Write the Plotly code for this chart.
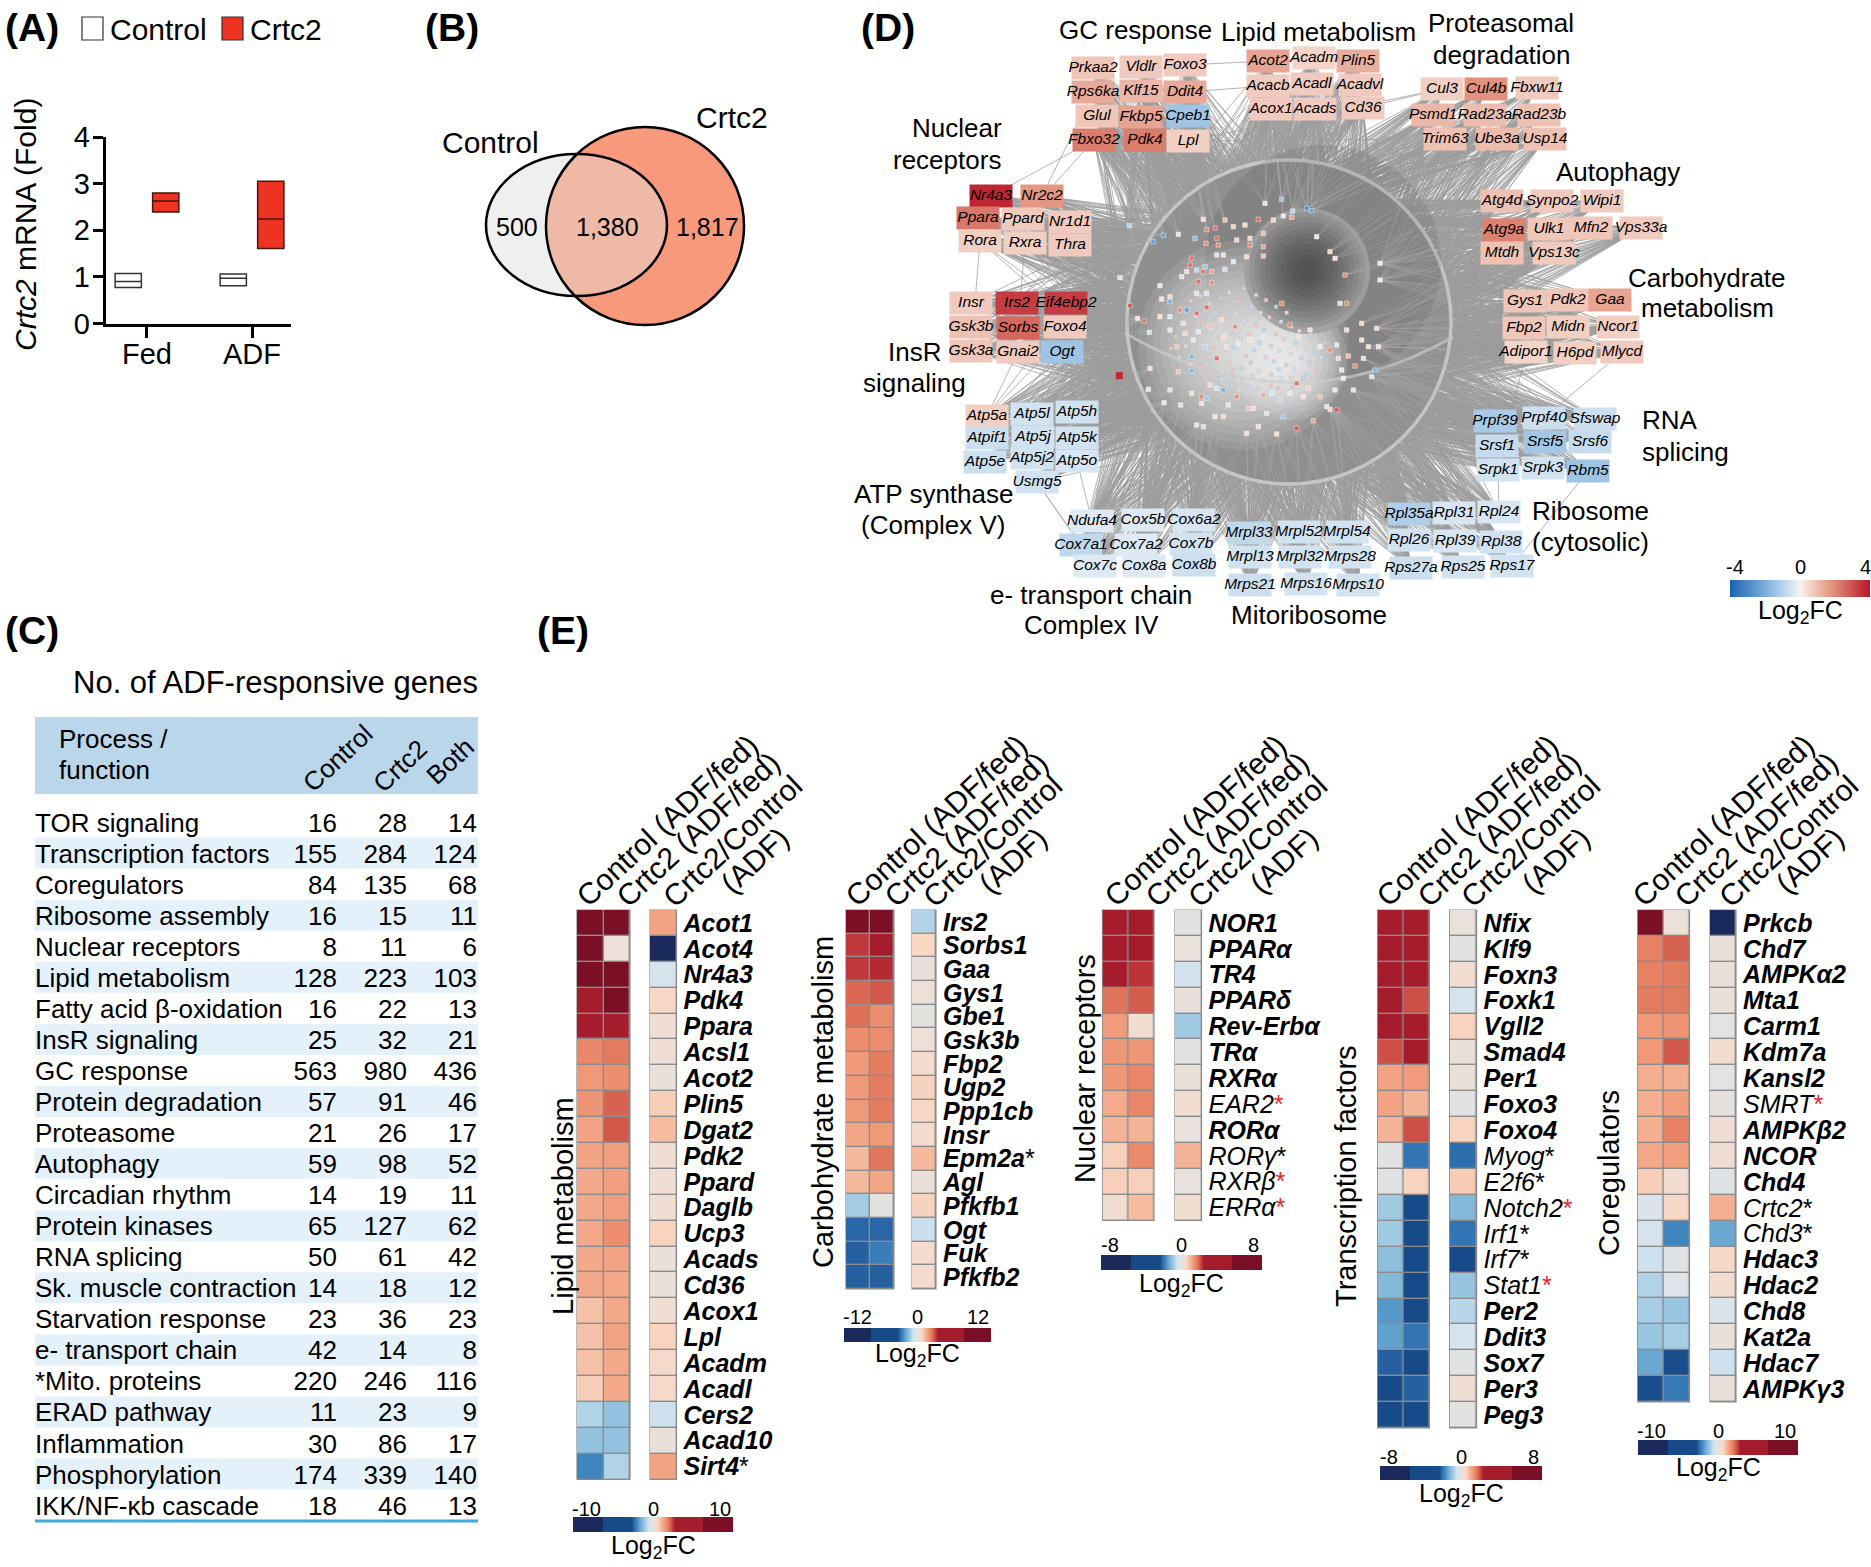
import numpy as np
import plotly.graph_objects as go

W, H = 1871, 1567
FONT = "Liberation Sans"

# ---------- panel A ----------
a_groups = ["Fed", "ADF"]
a_ctrl_q1 = [0.77, 0.81]
a_ctrl_med = [0.90, 0.97]
a_ctrl_q3 = [1.07, 1.06]
a_crtc_q1 = [2.39, 1.61]
a_crtc_med = [2.63, 2.24]
a_crtc_q3 = [2.80, 3.05]

# ---------- panel B ----------
venn_labels = ["Control", "Crtc2"]
venn_counts = ["500", "1,380", "1,817"]

# ---------- panel C ----------
c_process = ["TOR signaling", "Transcription factors", "Coregulators", "Ribosome assembly",
             "Nuclear receptors", "Lipid metabolism", "Fatty acid β-oxidation", "InsR signaling",
             "GC response", "Protein degradation", "Proteasome", "Autophagy", "Circadian rhythm",
             "Protein kinases", "RNA splicing", "Sk. muscle contraction", "Starvation response",
             "e- transport chain", "*Mito. proteins", "ERAD pathway", "Inflammation",
             "Phosphorylation", "IKK/NF-κb cascade"]
c_control = [16, 155, 84, 16, 8, 128, 16, 25, 563, 57, 21, 59, 14, 65, 50, 14, 23, 42, 220, 11, 30, 174, 18]
c_crtc2 = [28, 284, 135, 15, 11, 223, 22, 32, 980, 91, 26, 98, 19, 127, 61, 18, 36, 14, 246, 23, 86, 339, 46]
c_both = [14, 124, 68, 11, 6, 103, 13, 21, 436, 46, 17, 52, 11, 62, 42, 12, 23, 8, 116, 9, 17, 140, 13]

# ---------- panel D: network modules (gene, log2FC, layout position) ----------
gc_genes = ["Prkaa2", "Vldlr", "Foxo3", "Rps6ka", "Klf15", "Ddit4", "Glul", "Fkbp5", "Cpeb1", "Fbxo32", "Pdk4", "Lpl"]
gc_fc = [0.9, 0.8, 0.8, 1.5, 1.2, 1.5, 0.9, 1.6, -1.5, 2.4, 2.4, 0.7]
gc_x = [1093, 1141, 1185, 1093, 1141, 1185, 1097, 1141, 1188, 1094, 1145, 1188]
gc_y = [68, 67, 65, 92, 91, 92, 116, 117, 116, 140, 140, 141]

lipid_net_genes = ["Acot2", "Acadm", "Plin5", "Acacb", "Acadl", "Acadvl", "Acox1", "Acads", "Cd36"]
lipid_net_fc = [1.6, 0.6, 1.4, 0.8, 0.8, 0.8, 0.8, 0.8, 0.8]
lipid_net_x = [1268, 1314, 1358, 1268, 1312, 1360, 1271, 1315, 1363]
lipid_net_y = [61, 58, 61, 86, 84, 85, 109, 109, 108]

prot_genes = ["Cul3", "Cul4b", "Fbxw11", "Psmd1", "Rad23a", "Rad23b", "Trim63", "Ube3a", "Usp14"]
prot_fc = [0.7, 2.0, 0.8, 1.2, 1.1, 1.0, 1.0, 1.1, 1.0]
prot_x = [1442, 1486, 1537, 1433, 1485, 1539, 1445, 1497, 1545]
prot_y = [89, 89, 88, 115, 115, 115, 139, 139, 139]

auto_genes = ["Atg4d", "Synpo2", "Wipi1", "Atg9a", "Ulk1", "Mfn2", "Vps33a", "Mtdh", "Vps13c"]
auto_fc = [1.0, 0.8, 0.8, 2.3, 0.9, 0.9, 0.8, 1.0, 0.8]
auto_x = [1502, 1552, 1602, 1504, 1549, 1591, 1641, 1502, 1554]
auto_y = [201, 201, 201, 230, 229, 228, 228, 253, 253]

carb_net_genes = ["Gys1", "Pdk2", "Gaa", "Fbp2", "Midn", "Ncor1", "Adipor1", "H6pd", "Mlycd"]
carb_net_fc = [0.9, 0.9, 1.6, 0.9, 0.7, 0.7, 0.6, 0.7, 0.8]
carb_net_x = [1525, 1568, 1610, 1524, 1568, 1618, 1526, 1575, 1622]
carb_net_y = [301, 300, 300, 328, 327, 327, 352, 353, 352]

nr_net_genes = ["Nr4a3", "Nr2c2", "Ppara", "Ppard", "Nr1d1", "Rora", "Rxra", "Thra"]
nr_net_fc = [4.0, 1.9, 2.5, 0.8, 0.8, 0.7, 0.7, 0.8]
nr_net_x = [991, 1042, 978, 1023, 1070, 980, 1025, 1070]
nr_net_y = [196, 196, 218, 219, 222, 241, 243, 245]

insr_genes = ["Insr", "Irs2", "Eif4ebp2", "Gsk3b", "Sorbs", "Foxo4", "Gsk3a", "Gnai2", "Ogt"]
insr_fc = [0.8, 3.6, 3.6, 1.0, 2.8, 0.8, 0.9, 0.8, -1.5]
insr_x = [971, 1017, 1066, 971, 1018, 1065, 971, 1018, 1062]
insr_y = [303, 303, 303, 327, 328, 327, 351, 352, 352]

atp_genes = ["Atp5a", "Atp5l", "Atp5h", "Atpif1", "Atp5j", "Atp5k", "Atp5e", "Atp5j2", "Atp5o", "Usmg5"]
atp_fc = [0.7, -0.6, -0.6, -0.7, -0.6, -0.6, -0.7, -0.6, -0.5, -0.6]
atp_x = [987, 1032, 1077, 987, 1033, 1077, 985, 1032, 1077, 1037]
atp_y = [416, 414, 412, 438, 437, 438, 462, 458, 461, 482]

etc_genes = ["Ndufa4", "Cox5b", "Cox6a2", "Cox7a1", "Cox7a2", "Cox7b", "Cox7c", "Cox8a", "Cox8b"]
etc_fc = [-0.4, -0.4, -0.5, -0.9, -0.4, -0.6, -0.4, -0.4, -0.7]
etc_x = [1092, 1143, 1194, 1081, 1136, 1191, 1095, 1144, 1194]
etc_y = [521, 520, 520, 545, 545, 544, 566, 566, 565]

mito_genes = ["Mrpl33", "Mrpl52", "Mrpl54", "Mrpl13", "Mrpl32", "Mrps28", "Mrps21", "Mrps16", "Mrps10"]
mito_fc = [-0.9, -0.6, -0.6, -0.6, -0.6, -0.6, -0.7, -0.6, -0.6]
mito_x = [1249, 1299, 1347, 1250, 1300, 1350, 1250, 1306, 1358]
mito_y = [533, 532, 532, 557, 557, 557, 585, 584, 585]

ribo_genes = ["Rpl35a", "Rpl31", "Rpl24", "Rpl26", "Rpl39", "Rpl38", "Rps27a", "Rps25", "Rps17"]
ribo_fc = [-1.2, -0.5, -0.5, -0.6, -0.5, -0.6, -0.7, -0.6, -0.6]
ribo_x = [1409, 1454, 1499, 1409, 1455, 1501, 1411, 1463, 1512]
ribo_y = [514, 513, 512, 540, 541, 542, 568, 567, 566]

rna_genes = ["Prpf39", "Prpf40", "Sfswap", "Srsf1", "Srsf5", "Srsf6", "Srpk1", "Srpk3", "Rbm5"]
rna_fc = [-1.3, -0.7, -0.7, -0.8, -1.4, -0.8, -0.6, -0.6, -1.5]
rna_x = [1495, 1544, 1595, 1497, 1545, 1590, 1498, 1543, 1588]
rna_y = [421, 418, 419, 446, 442, 442, 470, 468, 471]

net_genes = gc_genes + lipid_net_genes + prot_genes + auto_genes + carb_net_genes + nr_net_genes + insr_genes + atp_genes + etc_genes + mito_genes + ribo_genes + rna_genes
net_fc = gc_fc + lipid_net_fc + prot_fc + auto_fc + carb_net_fc + nr_net_fc + insr_fc + atp_fc + etc_fc + mito_fc + ribo_fc + rna_fc
net_x = gc_x + lipid_net_x + prot_x + auto_x + carb_net_x + nr_net_x + insr_x + atp_x + etc_x + mito_x + ribo_x + rna_x
net_y = gc_y + lipid_net_y + prot_y + auto_y + carb_net_y + nr_net_y + insr_y + atp_y + etc_y + mito_y + ribo_y + rna_y

# single edges between modules that can be told apart in the picture
net_links = [("Nr4a3", "Fbxo32"), ("Gnai2", "Atp5a"), ("Mlycd", "Prpf40"), ("Cul3", "Cd36"), ("Lpl", "Trim63"),
             ("Foxo3", "Acot2"), ("Ddit4", "Acacb"), ("Srpk1", "Rpl24"), ("Atp5o", "Ndufa4"), ("Usmg5", "Cox7a1"),
             ("Ogt", "Gnai2"), ("Thra", "Gsk3a"), ("Rora", "Gsk3a"), ("Rxra", "Sorbs"), ("Adipor1", "Srpk1"),
             ("Usmg5", "Cox7c"), ("Rps17", "Rbm5"), ("Lpl", "Cul3"), ("Fbxo32", "Ppard"), ("Rps6ka", "Nr2c2")]

# small nodes inside the disc, read in a 3x crop whose corner is at (1090, 130)
sm_x = [118, 190, 220, 265, 315, 350, 375, 340, 405, 505, 525, 575, 608, 650, 665, 550, 605, 580, 430, 465, 380, 348, 385, 440, 480, 520, 480, 520, 400, 380,
        305, 300, 345, 340, 365, 320, 290, 405, 430, 470, 520, 90, 120, 163, 143, 178, 215, 210, 240, 240, 270, 290, 320, 350, 275, 325, 365, 350, 320, 240,
        210, 280, 240, 285, 325, 360, 395, 435, 400, 260, 310, 305, 345, 380, 410, 445, 480, 520, 570, 600, 575, 625, 660, 690, 720, 740, 770, 815, 815, 860,
        835, 865, 745, 775, 820, 795, 855, 845, 755, 760, 180, 265, 305, 175, 240, 305, 222, 272, 335, 335, 350, 380, 400, 360, 440, 415, 475, 520, 545, 570,
        620, 655, 600, 640, 690, 710, 740, 720, 670, 620, 560, 505, 470, 580, 530, 490, 400, 375, 320, 340, 790, 735, 870, 870, 765, 680, 720, 735, 770, 750]
sm_y = [287, 335, 316, 313, 325, 299, 294, 268, 270, 268, 220, 208, 243, 235, 242, 270, 262, 258, 290, 285, 325, 340, 345, 330, 325, 310, 345, 350, 375, 375,
        385, 405, 410, 425, 425, 420, 425, 418, 395, 380, 378, 443, 527, 573, 565, 607, 507, 467, 500, 515, 540, 540, 550, 532, 440, 455, 458, 490, 490, 560,
        560, 580, 600, 610, 605, 590, 570, 590, 620, 650, 630, 680, 650, 685, 650, 640, 630, 620, 640, 585, 520, 620, 600, 650, 660, 645, 600, 580, 630, 595,
        650, 650, 685, 678, 685, 708, 720, 740, 720, 745, 715, 725, 722, 778, 780, 790, 818, 825, 820, 800, 805, 775, 780, 765, 800, 825, 835, 795, 790, 810,
        760, 775, 790, 800, 800, 830, 840, 838, 872, 895, 912, 890, 910, 860, 850, 835, 860, 860, 885, 890, 780, 780, 400, 450, 435, 320, 365, 385, 520, 520]
sm_fc = [-1, -2.5, -2.5, .3, -1.8, 2, 2.5, .4, 1, 2.5, -.5, -1.5, -1, -3, -2.5, .5, 1.5, -.4, .6, .4, 2.5, 2, 2, .6, .5, 1, 2, 1.5, .4, -.4,
         2.5, 2.5, -1.5, 2.5, 1.5, -.8, .5, -.6, -.4, .5, 1, -.5, 3, 2.5, .3, -.5, .3, -.4, .5, -2, 2, -2.5, 2.5, 2.5, .4, 2.5, 2, .4, -.4, -.4,
         .4, .5, -.4, .5, -.4, 1, .5, 2, .5, 1, -.4, -2, -1, 2.5, .5, -.4, .4, -.4, .4, 2, 2, .5, .4, -.3, 2, -.5, .5, .5, .4, .5,
         .4, .3, .5, 1, .4, 2, -2, -.5, -.3, -.3, .4, 1, -2, .3, .4, .4, -.4, -.5, .3, 2, -1.5, -.5, -2, .5, 2, .4, 1, 1.5, -.5, -1,
         2.5, .6, -.4, .4, 1, -.5, 3, .5, 1.5, 3, .4, .3, .4, -1.5, .4, .5, .5, .3, -.4, -.6, .3, -.4, .3, .3, 2, -.3, .5, .3, 2, .5]
# the faint nodes of the pale cloud, same crop
cloud_x = [302, 333, 358, 392, 418, 447, 483, 512, 538, 573, 604, 628, 663, 318, 341, 376, 403, 438, 462, 497, 523, 558, 582, 617, 648, 672, 706, 332, 364, 388,
           424, 452, 478, 509, 543, 567, 603, 634, 657, 693, 371, 408, 431, 468, 492, 528, 551, 589, 612, 647, 678, 417, 454, 482, 507, 544, 566, 603, 628, 258,
           287, 243, 268, 304, 337, 362, 398, 421, 458, 486, 517, 542, 575, 608, 640, 462, 498, 528, 558, 590, 388, 412, 445, 470, 362, 395, 430, 505, 535, 565]
cloud_y = [512, 498, 520, 505, 488, 515, 530, 548, 562, 575, 590, 603, 615, 560, 578, 552, 565, 548, 572, 585, 600, 612, 628, 640, 655, 668, 640, 610, 598, 622,
           608, 625, 612, 638, 648, 662, 672, 685, 697, 682, 655, 668, 652, 678, 660, 682, 695, 705, 718, 732, 725, 702, 715, 698, 722, 735, 718, 745, 758, 620,
           648, 655, 682, 702, 712, 695, 725, 740, 755, 738, 752, 768, 745, 772, 745, 475, 495, 510, 530, 548, 745, 762, 780, 768, 735, 748, 720, 775, 790, 775]
cloud_fc = [.3, -.3, .2, .3, -.2, .3, -.3, .2, .3, -.2, .3, .2, -.3, .2, .3, -.3, .3, .2, -.2, .3, -.3, .3, .2, -.3, .2, -.3, .3, .3, -.2, .3,
            -.3, .2, .3, -.3, .3, -.2, .2, -.3, .3, -.2, .3, .2, -.3, .3, -.3, .2, -.3, .3, -.2, -.3, .3, .2, -.3, .3, -.2, .3, -.3, .2, -.3, .3,
            -.2, .3, -.3, .2, .3, -.3, .2, -.3, .3, .2, -.3, .3, -.2, .3, -.3, .3, -.2, .3, -.3, .2, .3, -.3, .2, -.3, .3, -.2, .3, .2, -.3, .3]
outlier_x = [88]
outlier_y = [737]
outlier_fc = [4.0]

module_titles = ["GC response", "Lipid metabolism", "Proteasomal", "degradation", "Nuclear", "receptors", "Autophagy",
                 "Carbohydrate", "metabolism", "InsR", "signaling", "ATP synthase", "(Complex V)", "e- transport chain",
                 "Complex IV", "Mitoribosome", "Ribosome", "(cytosolic)", "RNA", "splicing"]
module_title_x = [1135, 1318, 1501, 1501, 957, 947, 1618, 1707, 1707, 914, 914, 933, 933, 1091, 1091, 1309, 1590, 1590, 1670, 1685]
module_title_y = [30, 32, 23, 55, 128, 160, 172, 278, 308, 352, 383, 494, 525, 595, 625, 615, 511, 542, 420, 452]

# ---------- panel E ----------
lipid_genes = ["Acot1", "Acot4", "Nr4a3", "Pdk4", "Ppara", "Acsl1", "Acot2", "Plin5", "Dgat2", "Pdk2", "Ppard", "Daglb", "Ucp3", "Acads", "Cd36", "Acox1", "Lpl", "Acadm", "Acadl", "Cers2", "Acad10", "Sirt4*"]
lipid_ctrl = [9, 9, 9, 5, 3.4, 2.1, 1.8, 1.9, 1.6, 1.6, 1.5, 1.5, 1.5, 1.5, 1.5, 1.1, 1.1, 1.1, 0.9, -1.0, -1.4, -2.4]
lipid_crtc = [9, 0.3, 8, 8, 5, 2.3, 2.0, 2.6, 2.7, 1.7, 1.7, 1.7, 2.0, 1.6, 1.5, 1.5, 1.6, 1.5, 1.5, -1.4, -1.4, -1.0]
lipid_diff = [1.6, -9, -0.5, 0.7, 0.4, 0.4, 0.2, 0.9, 1.2, 0.4, 0.4, 0.4, 0.8, 0.2, 0.2, 0.4, 0.8, 0.6, 0.6, -0.7, 0.2, 1.6]

carb_genes = ["Irs2", "Sorbs1", "Gaa", "Gys1", "Gbe1", "Gsk3b", "Fbp2", "Ugp2", "Ppp1cb", "Insr", "Epm2a*", "Agl", "Pfkfb1", "Ogt", "Fuk", "Pfkfb2"]
carb_ctrl = [11, 3.7, 3.7, 3.1, 3.0, 2.5, 2.2, 2.2, 2.2, 1.9, 1.5, 1.5, -1.4, -3.5, -3.6, -3.6]
carb_crtc = [11, 4.5, 3.9, 3.3, 2.5, 2.5, 2.8, 2.8, 2.8, 2.2, 2.9, 1.9, 0, -3.5, -3.1, -3.6]
carb_diff = [-1.2, 0.9, 0.3, 0.4, 0, 0.4, 0.7, 1.0, 0.9, 0.7, 1.5, 0.3, 1.0, -0.9, 0.7, 0.7]

nr_genes = ["NOR1", "PPARα", "TR4", "PPARδ", "Rev-Erbα", "TRα", "RXRα", "EAR2*", "RORα", "RORγ*", "RXRβ*", "ERRα*"]
nr_ctrl = [5, 5, 5, 1.8, 1.3, 1.35, 1.35, 1.1, 1.0, 0.65, 0.65, 0.35]
nr_crtc = [5, 5, 2.3, 2.0, 0.35, 1.35, 1.6, 1.6, 1.0, 1.55, 0.65, 0.9]
nr_diff = [-0.1, 0.1, -0.45, 0.15, -0.9, -0.1, 0.15, 0.35, 0.1, 1.0, 0.1, 0.35]

tf_genes = ["Nfix", "Klf9", "Foxn3", "Foxk1", "Vgll2", "Smad4", "Per1", "Foxo3", "Foxo4", "Myog*", "E2f6*", "Notch2*", "Irf1*", "Irf7*", "Stat1*", "Per2", "Ddit3", "Sox7", "Per3", "Peg3"]
tf_ctrl = [5, 5, 5, 5, 2.6, 2.1, 1.2, 1.2, 1.0, -0.1, -0.1, -0.9, -0.9, -1.1, -1.2, -1.6, -1.5, -2.2, -3, -3]
tf_crtc = [5, 5, 5, 2.1, 5, 2.6, 1.3, 1.0, 2.1, -2.0, 0.6, -3, -3, -3, -3, -3, -2.0, -3, -2.2, -3]
tf_diff = [0.1, -0.1, 0.35, -0.4, 0.6, 0.15, 0.15, -0.1, 0.6, -2.1, 0.7, -1.2, -2.0, -3, -1.0, -0.7, -0.4, -0.1, 0.3, -0.05]

coreg_genes = ["Prkcb", "Chd7", "AMPKα2", "Mta1", "Carm1", "Kdm7a", "Kansl2", "SMRT*", "AMPKβ2", "NCOR", "Chd4", "Crtc2*", "Chd3*", "Hdac3", "Hdac2", "Chd8", "Kat2a", "Hdac7", "AMPKγ3"]
coreg_ctrl = [9, 2.2, 2.2, 2.3, 1.8, 1.8, 1.4, 1.4, 1.4, 1.5, 0.9, -0.4, -0.5, -0.7, -1.0, -1.1, -1.3, -1.9, -3.2]
coreg_crtc = [0.3, 2.6, 2.3, 2.3, 1.9, 2.7, 1.4, 1.7, 2.2, 1.7, 0.5, 0.7, -2.4, -0.2, -0.3, -1.3, -1.1, -3.2, -2.6]
coreg_diff = [-9, 0.2, 0.2, 0.2, -0.1, 0.5, -0.15, 0.1, 0.4, 0.4, -0.2, 1.4, -1.9, 0.7, 0.5, -0.4, 0.2, -0.7, 0.2]

light_genes = {"EAR2", "RORγ", "RXRβ", "ERRα", "Myog", "E2f6", "Notch2", "Irf1", "Irf7", "Stat1", "SMRT", "Crtc2", "Chd3"}
red_star_genes = {"EAR2", "RXRβ", "ERRα", "Notch2", "Stat1", "SMRT"}

heat_headers = ["Control (ADF/fed)", "Crtc2 (ADF/fed)", "Crtc2/Control", "(ADF)"]

# colour scale of the heatmaps: stops of |value|/range
heat_stops = [(0.0, "#e4e2df", "#e4e2df"), (0.03, "#efdfd6", "#dde4ea"), (0.06, "#f8d8c6", "#cce1ee"),
              (0.09, "#f6c3a8", "#a9cfe5"), (0.13, "#f3a585", "#86bbda"), (0.17, "#ec8c6c", "#5e9fcd"),
              (0.20, "#e0745a", "#3f85be"), (0.23, "#cf5347", "#2f70b1"), (0.26, "#b92e37", "#1b4f8e"),
              (0.28, "#a51c2d", "#174a88"), (0.63, "#a51c2d", "#174a88"), (0.63, "#7a0f25", "#1b2a5c"),
              (1.0, "#7a0f25", "#1b2a5c")]
heat_scale = [[0.5 - s[0] / 2, s[2]] for s in reversed(heat_stops)] + [[0.5 + s[0] / 2, s[1]] for s in heat_stops[1:]]
net_scale = [[0, "#1a63b3"], [0.25, "#7aaedb"], [0.45, "#dbe8f3"], [0.5, "#f7f4f2"], [0.55, "#f5dcd2"],
             [0.75, "#e08a74"], [1, "#b8162a"]]

fig = go.Figure()
shapes, notes = [], []


def px_x(x):
    return x / W


def px_y(y):
    return 1 - y / H


def note(x, y, text, size, xanchor="center", yanchor="middle", angle=0):
    notes.append(dict(x=x, y=y, xref="x", yref="y", text=text, showarrow=False, xanchor=xanchor, yanchor=yanchor,
                      textangle=angle, font=dict(size=size, color="black", family=FONT), borderpad=0, borderwidth=0))


def ellipse_pts(cx, cy, rx, ry, n=240):
    t = np.linspace(0, 2 * np.pi, n)
    return cx + rx * np.cos(t), cy + ry * np.sin(t)


def circle(cx, cy, r, fill, line="rgba(0,0,0,0)", width=0):
    shapes.append(dict(type="circle", xref="x2", yref="y2", x0=cx - r, x1=cx + r, y0=cy - r, y1=cy + r,
                       fillcolor=fill, line=dict(color=line, width=width), layer="below"))


def top_tick_notes(center, length, zrange, ticks, y):
    for v in ticks:
        note(center + v / zrange * length / 2, y, str(v), 20)


# three canvas axes in picture pixels: edges and B/C first, the disc over them, the gene boxes last
layout_axes = {}
for n in ["", "2", "3"]:
    layout_axes[f"xaxis{n}"] = dict(domain=[0, 1], range=[0, W], visible=False, fixedrange=True, anchor=f"y{n}")
    layout_axes[f"yaxis{n}"] = dict(domain=[0, 1], range=[H, 0], visible=False, fixedrange=True, anchor=f"x{n}")

# ---------- A ----------
layout_axes["xaxis4"] = dict(domain=[px_x(105.6), px_x(291)], range=[-0.394, 1.371], type="category", anchor="y4",
                             categoryorder="array", categoryarray=a_groups,
                             showline=True, linecolor="black", linewidth=3, ticks="outside", ticklen=11, tickwidth=2.5,
                             tickcolor="black", tickfont=dict(size=29, color="black"), showgrid=False, zeroline=False,
                             ticklabelstandoff=-8)
layout_axes["yaxis4"] = dict(domain=[px_y(323.5), px_y(137)], range=[0, 4], anchor="x4", tickvals=[0, 1, 2, 3, 4],
                             showline=True, linecolor="black", linewidth=3, ticks="outside", ticklen=10, tickwidth=2.5,
                             tickcolor="black", tickfont=dict(size=29, color="black"), showgrid=False, zeroline=False,
                             ticklabelstandoff=-3)
fig.add_trace(go.Box(x=a_groups, q1=a_ctrl_q1, median=a_ctrl_med, q3=a_ctrl_q3, lowerfence=a_ctrl_q1, upperfence=a_ctrl_q3,
                     name="Control", fillcolor="white", line=dict(color="#333333", width=1.5), whiskerwidth=0,
                     boxpoints=False, xaxis="x4", yaxis="y4", showlegend=False))
fig.add_trace(go.Box(x=a_groups, q1=a_crtc_q1, median=a_crtc_med, q3=a_crtc_q3, lowerfence=a_crtc_q1, upperfence=a_crtc_q3,
                     name="Crtc2", fillcolor="#ef3322", line=dict(color="#4a1510", width=1.5), whiskerwidth=0,
                     boxpoints=False, xaxis="x4", yaxis="y4", showlegend=False))
note(25, 225, "<i>Crtc2</i> mRNA (Fold)", 30, angle=-90)
for x0, fill, x_text, label in [(82, "white", 110, "Control"), (222, "#ef3322", 250, "Crtc2")]:
    shapes.append(dict(type="rect", xref="x", yref="y", x0=x0, x1=x0 + 21, y0=17, y1=40, fillcolor=fill,
                       line=dict(color="#333333", width=1.2), layer="above"))
    note(x_text, 29, label, 30, xanchor="left")

# ---------- B ----------
ctrl_c = (576.5, 225, 90.5, 71)
crtc_c = (645, 226, 99, 99)
px1, py1 = ellipse_pts(*ctrl_c, n=720)
px2, py2 = ellipse_pts(*crtc_c, n=720)
in_ctrl = ((px2 - ctrl_c[0]) / ctrl_c[2]) ** 2 + ((py2 - ctrl_c[1]) / ctrl_c[3]) ** 2 <= 1
in_crtc = ((px1 - crtc_c[0]) / crtc_c[2]) ** 2 + ((py1 - crtc_c[1]) / crtc_c[3]) ** 2 <= 1
ov_x = np.r_[px1[in_crtc], px2[in_ctrl]]
ov_y = np.r_[py1[in_crtc], py2[in_ctrl]]
order = np.argsort(np.arctan2(ov_y - 225, ov_x - 606))
for (cx, cy, rx, ry), fill in [(ctrl_c, "#efefef"), (crtc_c, "#f7997a")]:
    shapes.append(dict(type="circle", xref="x", yref="y", x0=cx - rx, x1=cx + rx, y0=cy - ry, y1=cy + ry,
                       fillcolor=fill, line=dict(width=0), layer="below"))
fig.add_trace(go.Scatter(x=ov_x[order], y=ov_y[order], fill="toself", fillcolor="#eebaa6", mode="none",
                         xaxis="x", yaxis="y", showlegend=False, hoverinfo="skip"))
for cx, cy, rx, ry in [ctrl_c, crtc_c]:
    shapes.append(dict(type="circle", xref="x", yref="y", x0=cx - rx, x1=cx + rx, y0=cy - ry, y1=cy + ry,
                       line=dict(color="black", width=2.5), layer="above"))
note(490, 142, venn_labels[0], 30)
note(732, 117, venn_labels[1], 30)
for x, label in zip([517, 607, 707], venn_counts):
    note(x, 227, label, 25)

# ---------- C ----------
C_ROW0, C_STEP, C_LEFT, C_RIGHT = 822, 31.05, 35, 478
shapes.append(dict(type="rect", xref="x", yref="y", x0=C_LEFT, x1=C_RIGHT, y0=717, y1=794, fillcolor="#b9d6ea",
                   line=dict(width=0), layer="below"))
for i in range(1, len(c_process), 2):
    yc = C_ROW0 + i * C_STEP
    shapes.append(dict(type="rect", xref="x", yref="y", x0=C_LEFT, x1=C_RIGHT, y0=yc - C_STEP / 2, y1=yc + C_STEP / 2,
                       fillcolor="#e4f1fa", line=dict(width=0), layer="below"))
shapes.append(dict(type="line", xref="x", yref="y", x0=C_LEFT, x1=C_RIGHT, y0=1521, y1=1521,
                   line=dict(color="#3fa9e0", width=3), layer="below"))
c_y = [C_ROW0 + 3 + i * C_STEP for i in range(len(c_process))]
fig.add_trace(go.Scatter(x=[C_LEFT] * len(c_process), y=c_y, text=c_process, mode="text", textposition="middle right",
                         textfont=dict(size=26, color="black"), xaxis="x", yaxis="y", showlegend=False, hoverinfo="skip"))
for vals, x_right in [(c_control, 337), (c_crtc2, 407), (c_both, 477)]:
    fig.add_trace(go.Scatter(x=[x_right] * len(vals), y=c_y, text=[str(v) for v in vals], mode="text",
                             textposition="middle left", textfont=dict(size=26, color="black"),
                             xaxis="x", yaxis="y", showlegend=False, hoverinfo="skip"))
note(478, 682, "No. of ADF-responsive genes", 31, xanchor="right")
note(59, 739, "Process /", 26, xanchor="left")
note(59, 770, "function", 26, xanchor="left")
for x, y, label in [(297, 798, "Control"), (367, 798, "Crtc2"), (420, 790, "Both")]:
    note(x, y, label, 26, xanchor="left", yanchor="bottom", angle=-43)

# ---------- D ----------
DISC = (1289, 322, 162)
circle(*DISC, "#8f8f8f", "#c6c6c6", 3.5)
circle(1323, 263, 118, "rgba(0,0,0,0.08)")
for i in range(12):
    circle(1243, 345, 105 - 7.5 * i, "rgba(255,255,255,0.09)")
for i in range(8):
    circle(1290, 362, 58 - 6.5 * i, "rgba(255,255,255,0.11)")
circle(1307, 271, 63, "rgba(160,160,160,0.9)")
for i in range(10):
    circle(1307, 270, 58 - 5.3 * i, "rgba(50,50,50,0.10)")
shapes.append(dict(type="path", path="M 1125 333 Q 1290 430 1453 337", xref="x2", yref="y2",
                   line=dict(color="rgba(205,205,205,0.7)", width=3), layer="below"))

hub_x = 1090 + np.array(sm_x) / 3
hub_y = 130 + np.array(sm_y) / 3
ex, ey, ix, iy = [], [], [], []
for x, y in zip(net_x, net_y):
    dist = np.hypot(hub_x - x, hub_y - y)
    nearest = np.argsort(dist)
    for j in nearest[:42]:
        ex += [x, hub_x[j], None]
        ey += [y, hub_y[j], None]
    # the part of a few of those edges that runs inside the disc
    for j in nearest[:5]:
        d = np.array([x - hub_x[j], y - hub_y[j]])
        c = np.array([hub_x[j] - DISC[0], hub_y[j] - DISC[1]])
        a_, b_, c_ = d @ d, 2 * c @ d, c @ c - DISC[2] ** 2
        s = (-b_ + np.sqrt(b_ ** 2 - 4 * a_ * c_)) / (2 * a_)
        ix += [hub_x[j] + s * d[0], hub_x[j], None]
        iy += [hub_y[j] + s * d[1], hub_y[j], None]
node_pos = {g: (x, y) for g, x, y in zip(net_genes, net_x, net_y)}
for a, b in net_links:
    ex += [node_pos[a][0], node_pos[b][0], None]
    ey += [node_pos[a][1], node_pos[b][1], None]
fig.add_trace(go.Scatter(x=ex, y=ey, mode="lines", line=dict(color="#9c9c9c", width=0.75), xaxis="x", yaxis="y",
                         showlegend=False, hoverinfo="skip"))
fig.add_trace(go.Scatter(x=ix, y=iy, mode="lines", line=dict(color="rgba(175,175,175,0.5)", width=0.6), xaxis="x2", yaxis="y2",
                         showlegend=False, hoverinfo="skip"))
fig.add_trace(go.Scatter(x=1090 + np.array(cloud_x) / 3, y=130 + np.array(cloud_y) / 3, mode="markers", xaxis="x2", yaxis="y2",
                         showlegend=False, hoverinfo="skip",
                         marker=dict(symbol="square", size=3.5, color=cloud_fc, colorscale=net_scale, cmin=-1.5, cmax=1.5,
                                     line=dict(color="rgba(170,190,205,0.7)", width=0.5))))
fig.add_trace(go.Scatter(x=hub_x, y=hub_y, mode="markers", xaxis="x2", yaxis="y2", showlegend=False, hoverinfo="skip",
                         marker=dict(symbol="square", size=4.5, color=sm_fc, colorscale=net_scale, cmin=-4.3, cmax=4.3,
                                     line=dict(color="rgba(255,255,255,0.7)", width=0.6))))
fig.add_trace(go.Scatter(x=1090 + np.array(outlier_x) / 3, y=130 + np.array(outlier_y) / 3, mode="markers", xaxis="x2", yaxis="y2",
                         showlegend=False, hoverinfo="skip",
                         marker=dict(symbol="square", size=7, color=outlier_fc, colorscale=net_scale, cmin=-4.3, cmax=4.3)))
BOX_W, BOX_H = 43, 23
fig.add_trace(go.Bar(x=net_x, y=[BOX_H] * len(net_x), base=[y - BOX_H / 2 for y in net_y], width=BOX_W, xaxis="x3", yaxis="y3",
                     showlegend=False, hoverinfo="skip",
                     marker=dict(color=net_fc, colorscale=net_scale, cmin=-4.3, cmax=4.3, line=dict(width=0),
                                 colorbar=dict(orientation="h", x=px_x(1800), xanchor="center", y=px_y(597), yanchor="bottom",
                                               lenmode="pixels", len=140, thicknessmode="pixels", thickness=17,
                                               tickvals=[-4, 0, 4], ticks="", showticklabels=False,
                                               outlinewidth=0, xpad=0, ypad=0))))
fig.add_trace(go.Scatter(x=net_x, y=net_y, text=net_genes, mode="text", xaxis="x3", yaxis="y3", showlegend=False, hoverinfo="skip",
                         textfont=dict(size=15.5, color="black", style="italic")))
for x, y, label in zip(module_title_x, module_title_y, module_titles):
    note(x, y, label, 26)
note(1800, 612, "Log<sub>2</sub>FC", 25)
top_tick_notes(1800, 140, 4.3, [-4, 0, 4], 567)


# ---------- E ----------
def gene_label(g):
    name = g.rstrip("*")
    text = f"<i>{name}</i>" if name in light_genes else f"<b><i>{name}</i></b>"
    if g.endswith("*"):
        text += '<span style="color:#e8262a">*</span>' if name in red_star_genes else "*"
    return text


heat_panels = [
    dict(title="Lipid metabolism", title_xy=(563, 1206), genes=lipid_genes, ctrl=lipid_ctrl, crtc=lipid_crtc, diff=lipid_diff,
         main=(577, 630), third=(650, 676.5), bottom=1479.5, zrange=12, ticks=[-10, 0, 10], bar=(653, 1532, 160, 15), tick_y=1509, log_y=1547,
         head_x=(570, 610, 657, 714)),
    dict(title="Carbohydrate metabolism", title_xy=(823, 1102), genes=carb_genes, ctrl=carb_ctrl, crtc=carb_crtc, diff=carb_diff,
         main=(846, 894), third=(912, 936), bottom=1289, zrange=14.7, ticks=[-12, 0, 12], bar=(917.5, 1342, 147, 14), tick_y=1317, log_y=1355,
         head_x=(839, 878, 917, 972)),
    dict(title="Nuclear receptors", title_xy=(1085, 1069), genes=nr_genes, ctrl=nr_ctrl, crtc=nr_crtc, diff=nr_diff,
         main=(1102.5, 1154), third=(1175, 1201.5), bottom=1220.5, zrange=9, ticks=[-8, 0, 8], bar=(1181.5, 1270, 161, 15), tick_y=1245, log_y=1285,
         head_x=(1098, 1139, 1182, 1243)),
    dict(title="Transcription factors", title_xy=(1346, 1176), genes=tf_genes, ctrl=tf_ctrl, crtc=tf_crtc, diff=tf_diff,
         main=(1377.6, 1429.4), third=(1449.6, 1476.6), bottom=1428, zrange=9, ticks=[-8, 0, 8], bar=(1461, 1480, 162, 14), tick_y=1457, log_y=1495,
         head_x=(1370, 1411, 1455, 1515)),
    dict(title="Coregulators", title_xy=(1609, 1173), genes=coreg_genes, ctrl=coreg_ctrl, crtc=coreg_crtc, diff=coreg_diff,
         main=(1637.7, 1689.5), third=(1710, 1736), bottom=1402, zrange=12, ticks=[-10, 0, 10], bar=(1718, 1455, 160, 15), tick_y=1431, log_y=1469,
         head_x=(1626, 1668, 1713, 1769)),
]

HEAT_TOP = 910
axis_n = 5
for p in heat_panels:
    genes = p["genes"]
    for part, (x0, x1) in [("main", p["main"]), ("third", p["third"])]:
        n = axis_n
        axis_n += 1
        layout_axes[f"xaxis{n}"] = dict(domain=[px_x(x0), px_x(x1)], visible=False, anchor=f"y{n}", fixedrange=True)
        yaxis = dict(domain=[px_y(p["bottom"]), px_y(HEAT_TOP)], anchor=f"x{n}", type="category", categoryorder="array",
                     categoryarray=genes, autorange="reversed", showgrid=False, zeroline=False, showline=False, fixedrange=True)
        if part == "third":
            yaxis.update(side="right", tickmode="array", tickvals=genes, ticktext=[gene_label(g) for g in genes], ticks="",
                         ticklabelstandoff=6, tickfont=dict(size=25, color="black"))
        else:
            yaxis.update(showticklabels=False, ticks="")
        layout_axes[f"yaxis{n}"] = yaxis
        if part == "main":
            columns = ["Control (ADF/fed)", "Crtc2 (ADF/fed)"]
            z = [list(v) for v in zip(p["ctrl"], p["crtc"])]
        else:
            columns = ["Crtc2/Control (ADF)"]
            z = [[v] for v in p["diff"]]
        trace = dict(x=columns, y=genes, z=z, zmin=-p["zrange"], zmax=p["zrange"], colorscale=heat_scale, xgap=1.4, ygap=1.4,
                     xaxis=f"x{n}", yaxis=f"y{n}", hoverinfo="skip", showscale=False)
        if part == "main":
            cx, by, length, thick = p["bar"]
            trace.update(showscale=True, colorbar=dict(
                orientation="h", x=px_x(cx), xanchor="center", y=px_y(by), yanchor="bottom", lenmode="pixels", len=length,
                thicknessmode="pixels", thickness=thick, tickvals=p["ticks"], ticks="", showticklabels=False,
                outlinewidth=0, xpad=0, ypad=0))
        fig.add_trace(go.Heatmap(**trace))
        shapes.append(dict(type="rect", xref=f"x{n} domain", yref=f"y{n} domain", x0=0, x1=1, y0=0, y1=1, fillcolor="#8c8c8c",
                           line=dict(color="#8c8c8c", width=1.2), layer="below"))
    tx, ty = p["title_xy"]
    note(tx, ty, p["title"], 29, angle=-90)
    hx = p["head_x"]
    for x, label in zip(hx[:3], heat_headers[:3]):
        note(x, 913, label, 30, xanchor="left", yanchor="bottom", angle=-43)
    note(hx[3], 900, heat_headers[3], 30, xanchor="left", yanchor="bottom", angle=-43)
    note(p["bar"][0], p["log_y"], "Log<sub>2</sub>FC", 25)
    top_tick_notes(p["bar"][0], p["bar"][2], p["zrange"], p["ticks"], p["tick_y"])

for x, y, label in [(5, 27, "(A)"), (425, 27, "(B)"), (5, 630, "(C)"), (861, 27, "(D)"), (537, 630, "(E)")]:
    note(x, y, f"<b>{label}</b>", 39, xanchor="left")

fig.update_layout(width=W, height=H, margin=dict(l=0, r=0, t=0, b=0, autoexpand=False), paper_bgcolor="white",
                  plot_bgcolor="rgba(0,0,0,0)", font=dict(family=FONT, color="black"), showlegend=False,
                  boxmode="group", boxgap=0.286, boxgroupgap=0.3, barmode="overlay", shapes=shapes, annotations=notes,
                  **layout_axes)

# the page's default 8px body margin would push the figure off the window
fig.write_html("out.html", config={"displayModeBar": False}, post_script="document.body.style.margin='0';")
